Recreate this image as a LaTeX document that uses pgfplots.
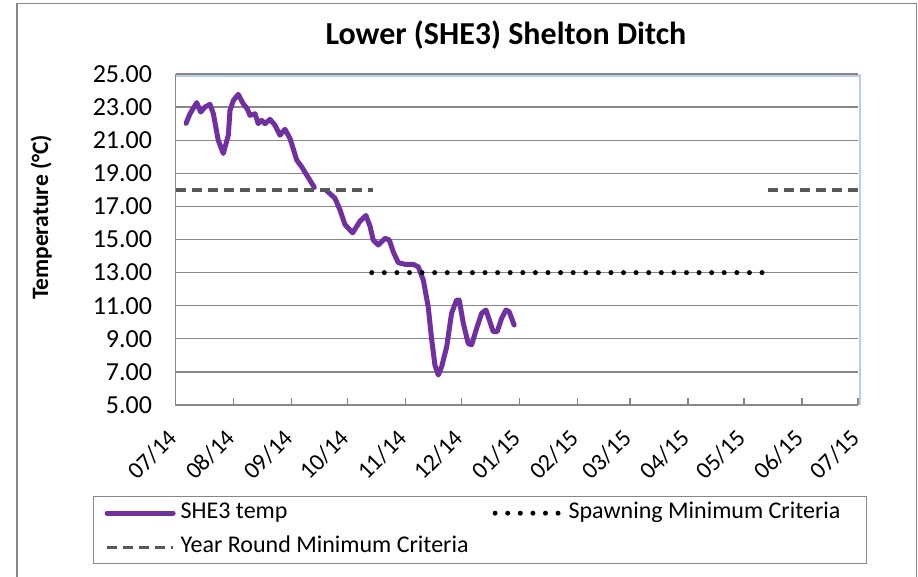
\documentclass[border=0pt]{standalone}
\usepackage{fontspec}
\setmainfont{Carlito}
\usepackage{pgfplots}
\pgfplotsset{compat=1.18}
\definecolor{shepurple}{HTML}{7030A0}
\definecolor{dgray}{HTML}{595959}
\definecolor{gridgray}{HTML}{878787}
\definecolor{lblue}{HTML}{B9CDE5}
\begin{document}
\begin{tikzpicture}
\useasboundingbox (0pt,0pt) rectangle (918pt,-577pt);
\draw[gridgray, line width=1.5pt] (17pt,-580pt) -- (17pt,-3.5pt) -- (916.5pt,-3.5pt) -- (916.5pt,-580pt);
\begin{axis}[
  at={(175.6pt,-405pt)}, anchor=south west,
  scale only axis, width=682.4pt, height=331pt,
  xmin=0, xmax=365, ymin=5, ymax=25,
  clip=false,
  xtick={0,31,62,92,123,153,184,215,243,274,304,335,365},
  xticklabels={07/14,08/14,09/14,10/14,11/14,12/14,01/15,02/15,03/15,04/15,05/15,06/15,07/15},
  ytick={5,7,9,11,13,15,17,19,21,23,25},
  /pgf/number format/fixed, /pgf/number format/fixed zerofill,
  /pgf/number format/precision=2, /pgf/number format/assume math mode=true,
  axis line style={draw=none},
  ymajorgrids, grid style={gridgray, line width=1.3pt},
  tick align=inside, xtick pos=bottom, major tick length=7pt,
  xtick style={gridgray, line width=1.3pt},
  ytick style={draw=none},
  yticklabel style={font=\fontsize{26}{26}\selectfont, xshift=-20pt},
  xticklabel style={font=\fontsize{24}{24}\selectfont, xshift=-9pt, yshift=-18pt, rotate=45, anchor=north east},
  title={Lower (SHE3) Shelton Ditch},
  title style={at={(axis description cs:0.484,1.0725)}, anchor=base, font=\fontsize{32}{32}\selectfont\bfseries},
  ylabel={Temperature (°C)},
  ylabel style={at={(axis description cs:-0.197,0.567)}, anchor=center, font=\fontsize{23.5}{23.5}\selectfont\bfseries},
  legend columns=2,
  legend entries={SHE3 temp, Spawning Minimum Criteria\hspace*{10pt}, Year Round Minimum Criteria},
  legend style={at={(axis description cs:-0.121,-0.275)}, anchor=north west,
    draw=gridgray, line width=1.3pt, inner xsep=11pt, inner ysep=1pt, row sep=3pt,
    font=\fontsize{24}{24}\selectfont,
    nodes={inner sep=5pt, text height=16pt, text depth=5pt},
    /tikz/every even column/.append style={column sep=19pt}},
  legend cell align=left,
  legend image code/.code={\draw[#1] (0pt,0pt) -- (66pt,0pt);},
]
\addplot[shepurple, line width=5pt, line join=round, line cap=round] coordinates {
(5.6,22.02) (7.7,22.6) (11.3,23.27) (13.4,22.7) (15.7,23.0) (18.4,23.17) (20.2,22.6)
(22.8,21.0) (25.5,20.2) (28.2,21.3) (29.1,22.8) (30.9,23.4) (33.5,23.77) (36.2,23.2)
(38.3,22.9) (39.8,22.5) (42.5,22.6) (44.2,22.0) (46.0,22.2) (47.8,22.0) (50.5,22.26)
(53.2,21.9) (55.8,21.3) (58.5,21.66) (61.2,21.1) (64.8,19.8) (67.4,19.4) (70.1,18.9)
(74.2,18.15)};
\addplot[shepurple, line width=5pt, line join=round, line cap=round, forget plot] coordinates {
(80.8,17.95) (85.2,17.5) (87.9,16.8) (90.6,15.9) (94.7,15.4) (98.6,16.1) (101.8,16.45)
(104.0,15.8) (105.7,14.97) (108.4,14.67) (112.0,15.07) (114.3,14.97) (116.4,14.26)
(119.1,13.6) (122.7,13.5) (127.1,13.5) (129.8,13.35) (132.5,12.55) (135.1,10.94)
(137.0,8.93) (138.7,7.42) (140.5,6.81) (142.3,7.31) (145.0,8.52) (147.6,10.54)
(150.3,11.34) (151.7,11.34) (153.9,9.93) (156.5,8.72) (158.3,8.63) (161.0,9.63)
(163.7,10.54) (166.0,10.74) (167.8,10.14) (169.9,9.43) (172.0,9.43) (174.4,10.24)
(176.7,10.74) (178.4,10.64) (181.1,9.83)};
\addplot[black, line width=5pt, line cap=round, dash pattern=on 0pt off 12.59pt] coordinates {(104.9,13) (314.5,13)};
\addplot[dgray, line width=3.3pt, dash pattern=on 10pt off 6pt] coordinates {(0,18) (105.4,18)};
\addplot[dgray, line width=3.3pt, dash pattern=on 10pt off 6pt, forget plot] coordinates {(316.8,18) (365,18)};
\draw[lblue, line width=1.5pt] ([xshift=2pt]rel axis cs:1,0) -- ([xshift=2pt]rel axis cs:1,1);
\draw[lblue, line width=1.5pt] ([yshift=-2pt]rel axis cs:0,1) -- ([yshift=-2pt,xshift=2pt]rel axis cs:1,1);
\draw[gridgray, line width=1.3pt] (rel axis cs:0,1) -- (rel axis cs:0,0) -- (rel axis cs:1,0);
\end{axis}
\end{tikzpicture}
\end{document}
